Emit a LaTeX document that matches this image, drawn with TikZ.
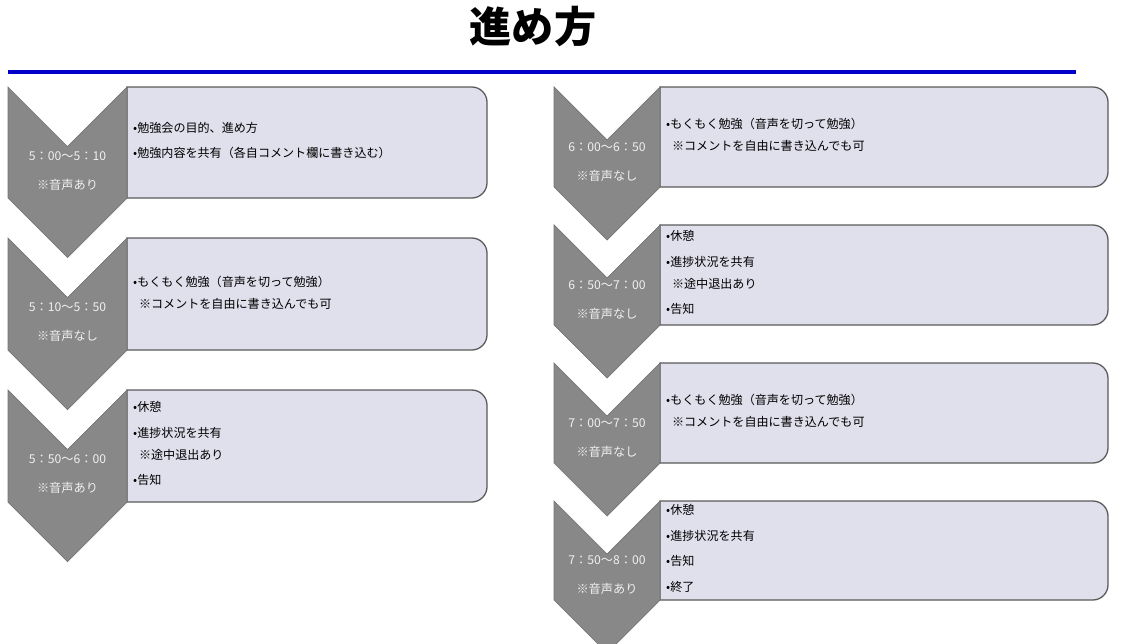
\documentclass[tikz,border=0pt]{standalone}
\usepackage{fontspec}
\setmainfont{Noto Sans CJK JP}
\usetikzlibrary{positioning}
\definecolor{chevgray}{RGB}{136,136,136}
\definecolor{boxfill}{RGB}{224,223,236}
\definecolor{boxline}{RGB}{90,90,90}
\definecolor{rulecol}{RGB}{0,0,200}

\begin{document}
\begin{tikzpicture}[x=0.03cm, y=-0.03cm,
    chevron/.style={fill=chevgray, draw=chevgray!85!black, line width=0.6pt},
    stepbox/.style={fill=boxfill, draw=boxline, line width=1.1pt},
    timelabel/.style={text=white!94!black, font=\fontsize{10.4pt}{24.7pt}\selectfont, align=center},
    itemtext/.style={anchor=west, align=left, inner sep=0pt, font=\fontsize{10.3pt}{18.8pt}\selectfont},
    title/.style={font=\fontsize{36pt}{40pt}\selectfont\bfseries}
  ]
  \useasboundingbox (0,0) rectangle (1123,643);
  \clip (0,0) rectangle (1123,643);

  \node[title] (title) at (533,27) {進め方};
  \draw[rulecol, line width=2.6pt] (8,72) -- (1076,72);

  % x/width/top/bottom/right edge/time/voice/name
  \foreach \x/\w/\t/\b/\r/\tm/\vc/\n in {
      8/119/87/198/487/{5：00～5：10}/{※音声あり}/l1,
      8/119/238/350/487/{5：10～5：50}/{※音声なし}/l2,
      8/119/390/502/487/{5：50～6：00}/{※音声あり}/l3,
      554/106/87/187/1108/{6：00～6：50}/{※音声なし}/r1,
      554/106/225/325/1108/{6：50～7：00}/{※音声なし}/r2,
      554/106/363/463/1108/{7：00～7：50}/{※音声なし}/r3,
      554/106/501/600/1108/{7：50～8：00}/{※音声あり}/r4} {
    \draw[stepbox] (\x+\w,\b) -- (\x+\w,\t) [rounded corners=13] -- (\r,\t) -- (\r,\b) [sharp corners] -- cycle;
    \draw[chevron] (\x,\t) -- ({\x+\w/2},{\t+\w/2}) -- (\x+\w,\t) -- (\x+\w,\b)
      -- ({\x+\w/2},{\b+\w/2}) -- (\x,\b) -- cycle;
    \node[timelabel] (\n time) at ({\x+\w/2},{(\t+\b+\w/2)/2-1.5}) {\tm\\\vc};
  }

  % box texts
  \node[itemtext] (l1text) at (133,140.5) {•勉強会の目的、進め方\\[3pt]•勉強内容を共有（各自コメント欄に書き込む）};
  \node[itemtext] (l2text) at (133,292.5) {•もくもく勉強（音声を切って勉強）\\\hspace{5pt}※コメントを自由に書き込んでも可};
  \node[itemtext] (l3text) at (133,443.5) {•休憩\\[3pt]•進捗状況を共有\\\hspace{5pt}※途中退出あり\\[3pt]•告知};
  \node[itemtext] (r1text) at (666,135) {•もくもく勉強（音声を切って勉強）\\\hspace{5pt}※コメントを自由に書き込んでも可};
  \node[itemtext] (r2text) at (666,272.5) {•休憩\\[3pt]•進捗状況を共有\\\hspace{5pt}※途中退出あり\\[3pt]•告知};
  \node[itemtext] (r3text) at (666,410.5) {•もくもく勉強（音声を切って勉強）\\\hspace{5pt}※コメントを自由に書き込んでも可};
  \node[itemtext] (r4text) at (666,548.5) {•休憩\\[3pt]•進捗状況を共有\\[3pt]•告知\\[3pt]•終了};
\end{tikzpicture}
\end{document}
